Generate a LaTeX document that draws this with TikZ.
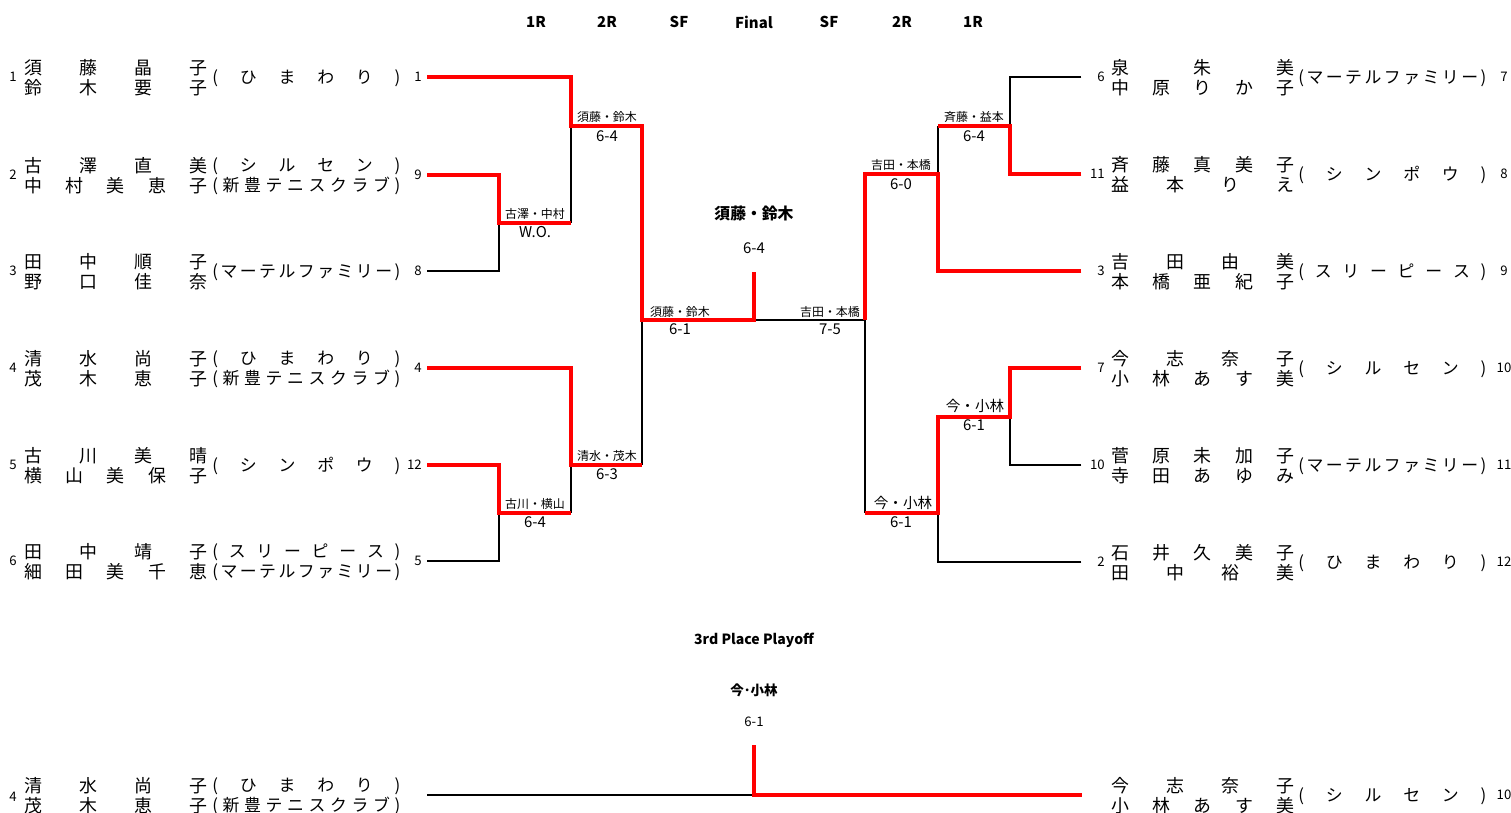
\documentclass[tikz,border=0pt]{standalone}
\usepackage{fontspec}
\setmainfont{Noto Sans CJK JP}
\usetikzlibrary{positioning}

\newdimen\pxu \pxu=0.02cm
% spread the characters of a word over a fixed width
\def\spreadend{}
\def\spreadfirst#1{#1\spreadrest}
\def\spreadrest#1{\ifx#1\spreadend\else\hfill#1\expandafter\spreadrest\fi}
\newcommand\spreadtext[1]{\spreadfirst#1\spreadend}
\newcommand\nm[1]{\makebox[183\pxu][s]{\spreadtext{#1}}}
\newcommand\cl[1]{\makebox[188\pxu][s]{\spreadtext{(#1)}}}

% one pair on the left / on the right
\newcommand\leftpair[6]{%
	\node[seedno] (seed#1) at (13,#2) {#3};
	\node[names] (nm#1) at (24,#2+1) {#4};
	\node[clubs] (cl#1) at (212,#2+1) {#5};
	\node[drawno] (d#1) at (427,#2) {#1};
}
\newcommand\rightpair[6]{%
	\node[drawnoR] (d#1) at (1105,#2) {#1};
	\node[names] (nm#1) at (1111,#2+1) {#4};
	\node[clubs] (cl#1) at (1298,#2+1) {#5};
	\node[seedno] (seed#1) at (1504,#2) {#3};
}

\begin{document}
\begin{tikzpicture}[x=0.02cm, y=-0.02cm,
	names/.style={inner sep=0, anchor=west, align=center, font=\fontsize{10.2}{11.34}\selectfont},
	clubs/.style={inner sep=0, anchor=west, align=center, font=\fontsize{9.6}{11.34}\selectfont},
	seedno/.style={inner sep=0, font=\fontsize{7.5}{9}\selectfont},
	drawno/.style={inner sep=0, inner xsep=0.1cm, anchor=east, font=\fontsize{7.5}{9}\selectfont},
	drawnoR/.style={inner sep=0, text width=0.46cm, align=right, anchor=east, font=\fontsize{7.5}{9}\selectfont},
	mlabel/.style={inner sep=0, font=\fontsize{6.8}{8}\selectfont},
	mlabelbig/.style={inner sep=0, font=\fontsize{8.3}{9}\selectfont},
	score/.style={inner sep=0, font=\fontsize{8.5}{9}\selectfont},
	head/.style={inner sep=0, font=\bfseries\fontsize{8.5}{9}\selectfont},
	win/.style={red, line width=2.5pt},
	lose/.style={black, line width=1.1pt},
	losethin/.style={black, line width=0.6pt}]
		%%%%% START %%%%%
		\useasboundingbox (0,0) rectangle (1511,812);
		
		\node[head] (h1) at (536,22) {1R};
		\node[head] (h2) at (607,22) {2R};
		\node[head] (h3) at (679,22) {SF};
		\node[head] (h4) at (754,22) {Final};
		\node[head] (h5) at (829,22) {SF};
		\node[head] (h6) at (902,22) {2R};
		\node[head] (h7) at (973,22) {1R};
		
		% left half
		\leftpair{1}{77}{1}{\nm{須藤晶子}\\\nm{鈴木要子}}{\cl{ひまわり}}{}
		\leftpair{9}{175}{2}{\nm{古澤直美}\\\nm{中村美恵子}}{\cl{シルセン}\\\cl{新豊テニスクラブ}}{}
		\leftpair{8}{271}{3}{\nm{田中順子}\\\nm{野口佳奈}}{\cl{マーテルファミリー}}{}
		\leftpair{4}{368}{4}{\nm{清水尚子}\\\nm{茂木恵子}}{\cl{ひまわり}\\\cl{新豊テニスクラブ}}{}
		\leftpair{12}{465}{5}{\nm{古川美晴}\\\nm{横山美保子}}{\cl{シンポウ}}{}
		\leftpair{5}{561}{6}{\nm{田中靖子}\\\nm{細田美千恵}}{\cl{スリーピース}\\\cl{マーテルファミリー}}{}
		
		% right half
		\rightpair{6}{77}{7}{\nm{泉朱美}\\\nm{中原りか子}}{\cl{マーテルファミリー}}{}
		\rightpair{11}{174}{8}{\nm{斉藤真美子}\\\nm{益本りえ}}{\cl{シンポウ}}{}
		\rightpair{3}{271}{9}{\nm{吉田由美}\\\nm{本橋亜紀子}}{\cl{スリーピース}}{}
		\rightpair{7}{368}{10}{\nm{今志奈子}\\\nm{小林あす美}}{\cl{シルセン}}{}
		\rightpair{10}{465}{11}{\nm{菅原未加子}\\\nm{寺田あゆみ}}{\cl{マーテルファミリー}}{}
		\rightpair{2}{562}{12}{\nm{石井久美子}\\\nm{田中裕美}}{\cl{ひまわり}}{}
		
		% match lines
		\coordinate (A1) at (499,223); \coordinate (A2) at (571,223);
		\coordinate (B1) at (571,126); \coordinate (B2) at (642,126);
		\coordinate (C1) at (499,513); \coordinate (C2) at (571,513);
		\coordinate (D1) at (571,465); \coordinate (D2) at (642,465);
		\coordinate (E1) at (642,320); \coordinate (E2) at (754,320);
		\coordinate (F) at (754,272);
		\coordinate (P1) at (1010,126); \coordinate (P2) at (938,126);
		\coordinate (Q1) at (938,174); \coordinate (Q2) at (865,174);
		\coordinate (R1) at (1010,417); \coordinate (R2) at (938,417);
		\coordinate (S1) at (938,513); \coordinate (S2) at (865,513);
		\coordinate (T1) at (865,320);
		
		\draw[lose] (d8.east) -| (A1);
		\draw[lose] (d5.east) -| (C1);
		\draw[losethin] (A2) -- (B1);
		\draw[losethin] (C2) -- (D1);
		\draw[losethin] (D2) -- (E1);
		\draw[lose] (E2) -- (T1);
		\draw[lose] (d6.west) -| (P1);
		\draw[lose] (d10.west) -| (R1);
		\draw[lose] (d2.west) -| (S1);
		\draw[losethin] (P2) -- (Q1);
		\draw[losethin] (S2) -- (T1);
		
		\draw[win] (d1.east) -| (B1) -- (B2) -- (E1) -- (E2) -- (F);
		\draw[win] (d9.east) -| (A1) -- (A2);
		\draw[win] (d4.east) -| (D1) -- (D2);
		\draw[win] (d12.east) -| (C1) -- (C2);
		\draw[win] (d11.west) -| (P1) -- (P2);
		\draw[win] (d3.west) -| (Q1) -- (Q2) -- (T1);
		\draw[win] (d7.west) -| (R1) -- (R2) -- (S1) -- (S2);
		
		% winners and scores
		\node[mlabel] (labA) at (535,214) {古澤・中村};
		\node[score] (scA) at (535,232) {W.O.};
		\node[mlabel] (labB) at (607,117) {須藤・鈴木};
		\node[score] (scB) at (607,136) {6-4};
		\node[mlabel] (labC) at (535,504) {古川・横山};
		\node[score] (scC) at (535,522) {6-4};
		\node[mlabel] (labD) at (607,456) {清水・茂木};
		\node[score] (scD) at (607,474) {6-3};
		\node[mlabel] (labE) at (680,312) {須藤・鈴木};
		\node[score] (scE) at (680,329) {6-1};
		\node[mlabel] (labP) at (974,117) {斉藤・益本};
		\node[score] (scP) at (974,136) {6-4};
		\node[mlabel] (labQ) at (901,165) {吉田・本橋};
		\node[score] (scQ) at (901,184) {6-0};
		\node[mlabelbig] (labR) at (975,406) {今・小林};
		\node[score] (scR) at (974,425) {6-1};
		\node[mlabelbig] (labS) at (903,503) {今・小林};
		\node[score] (scS) at (901,522) {6-1};
		\node[mlabel] (labT) at (830,312) {吉田・本橋};
		\node[score] (scT) at (830,329) {7-5};
		
		\node[head, font=\bfseries\fontsize{9}{10}\selectfont] (champ) at (754,214) {須藤・鈴木};
		\node[score] (champsc) at (754,248) {6-4};
		
		% 3rd place
		\node[head, font=\bfseries\fontsize{8}{9}\selectfont] (third) at (754,640) {3rd Place Playoff};
		\node[head, font=\bfseries\fontsize{7.7}{9}\selectfont] (thirdw) at (754,690) {今･小林};
		\node[score, font=\fontsize{7.5}{9}\selectfont] (thirdsc) at (754,722) {6-1};
		
		\node[seedno] (seedB4) at (13,797) {4};
		\node[names] (nmB4) at (24,796) {\nm{清水尚子}\\\nm{茂木恵子}};
		\node[clubs] (clB4) at (212,796) {\cl{ひまわり}\\\cl{新豊テニスクラブ}};
		\node[names] (nmB7) at (1111,796) {\nm{今志奈子}\\\nm{小林あす美}};
		\node[clubs] (clB7) at (1298,796) {\cl{シルセン}};
		\node[seedno] (seedB7) at (1504,795) {10};
		
		\coordinate (H1) at (427,795);
		\coordinate (H2) at (754,795);
		\coordinate (H3) at (1082,795);
		\coordinate (G) at (754,745);
		\draw[lose] (H1) -- (H2);
		\draw[win] (G) -- (H2) -- (H3);
		%%%%% END %%%%%
\end{tikzpicture}
\end{document}
